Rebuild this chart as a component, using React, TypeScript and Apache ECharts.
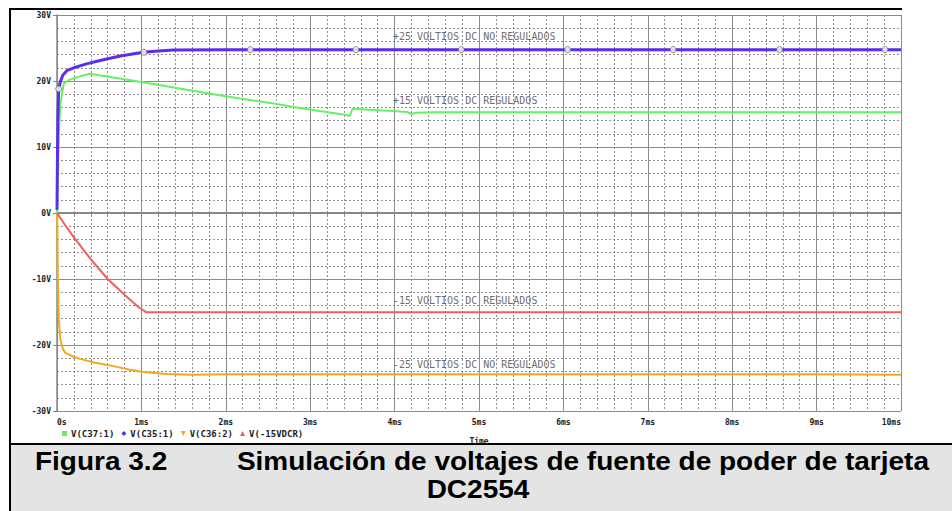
import React, { useEffect, useRef } from 'react';
import * as echarts from 'echarts';

const xTickLabels = ['0s', '1ms', '2ms', '3ms', '4ms', '5ms', '6ms', '7ms', '8ms', '9ms', '10ms'];
const yTickLabels = ['-30V', '-20V', '-10V', '0V', '10V', '20V', '30V'];
const legendNames = ['V(C37:1)', 'V(C35:1)', 'V(C36:2)', 'V(-15VDCR)'];

// V(C37:1) green (+15 V regulated)
const c37Time = [0, 0.01, 0.02, 0.04, 0.08, 0.15, 0.27, 0.39, 1.07, 1.85, 2.6, 2.88, 3.11, 3.43, 3.47, 3.5, 3.7, 3.98, 4.15, 4.2, 4.25, 4.46, 5, 6, 7, 8, 9, 10];
const c37Volt = [0, 5, 11.8, 16.5, 19.6, 20.2, 20.7, 21.1, 19.7, 18.0, 16.5, 15.9, 15.45, 14.85, 14.7, 15.8, 15.65, 15.45, 15.3, 15.0, 15.2, 15.25, 15.25, 15.25, 15.25, 15.25, 15.25, 15.25];

// V(C35:1) purple (+25 V unregulated)
const c35Time = [0, 0.005, 0.01, 0.02, 0.04, 0.07, 0.12, 0.2, 0.35, 0.51, 0.75, 1.02, 1.2, 1.38, 2, 4, 6, 8, 10];
const c35Volt = [0.5, 8, 14, 18.8, 19.9, 20.9, 21.6, 22.0, 22.6, 23.1, 23.8, 24.35, 24.55, 24.7, 24.75, 24.75, 24.75, 24.75, 24.75];

// hollow marks on V(C35:1)
const c35MarkTime = [0.02, 1.03, 2.29, 3.54, 4.79, 6.05, 7.3, 8.56, 9.81];
const c35MarkVolt = [18.8, 24.35, 24.75, 24.75, 24.75, 24.75, 24.75, 24.75, 24.75];

// V(C36:2) orange (-25 V unregulated)
const c36Time = [0, 0.005, 0.01, 0.02, 0.04, 0.07, 0.1, 0.18, 0.27, 0.45, 0.67, 0.85, 1.02, 1.3, 1.61, 2, 3, 4, 5, 6, 7, 8, 9, 10];
const c36Volt = [0, -3, -10, -16, -19.2, -20.6, -21.2, -21.7, -22.1, -22.7, -23.2, -23.7, -24.1, -24.4, -24.5, -24.45, -24.45, -24.45, -24.45, -24.45, -24.45, -24.45, -24.45, -24.5];

// V(-15VDCR) red (-15 V regulated)
const r15Time = [0, 0.1, 0.2, 0.4, 0.6, 0.8, 0.96, 1.06, 2, 4, 6, 8, 10];
const r15Volt = [0, -1.9, -3.7, -7.0, -10.0, -12.4, -14.2, -15.05, -15.05, -15.05, -15.05, -15.05, -15.05];

// annotations
const noteTexts = ['+25 VOLTIOS DC NO REGULADOS', '+15 VOLTIOS DC REGULADOS', '-15 VOLTIOS DC REGULADOS', '-25 VOLTIOS DC NO REGULADOS'];
const noteTime = [3.98, 3.98, 3.98, 3.98];
const noteVolt = [26.8, 17.0, -13.2, -23.0];

const captionLeft = 'Figura 3.2';
const captionRight = 'Simulación de voltajes de fuente de poder de tarjeta';
const captionLine2 = 'DC2554';

export default function App() {
  const ref = useRef<HTMLDivElement>(null);
  useEffect(() => {
    document.body.style.margin = '0';
    const chart = echarts.init(ref.current!, undefined, { renderer: 'svg' });
    const zip = (t: number[], v: number[]) => t.map((x, i) => [x, v[i]]);
    const mono = '"DejaVu Sans Mono", monospace';
    const capFont = 'bold 25px "Liberation Sans", Arial, sans-serif';
    const colors = ['#66f066', '#5a2ef2', '#f8a622', '#f25c5c'];
    const icons = ['rect', 'diamond', 'path://M0,0L10,0L5,10Z', 'triangle'];
    const lineSeries = [zip(c37Time, c37Volt), zip(c35Time, c35Volt), zip(c36Time, c36Volt), zip(r15Time, r15Volt)];
    const widths = [2, 3, 2, 2];
    chart.setOption({
      animation: false,
      backgroundColor: '#ffffff',
      grid: { left: 57, right: 51, top: 15, bottom: 100 },
      xAxis: {
        type: 'value',
        min: 0,
        max: 10,
        interval: 1,
        name: 'Time',
        nameLocation: 'middle',
        nameGap: 26,
        nameTextStyle: { fontFamily: mono, fontSize: 8, fontWeight: 'bold', color: '#222' },
        axisLine: { show: true, lineStyle: { color: '#888', width: 2 } },
        axisTick: { show: true, length: 4, lineStyle: { color: '#888' } },
        minorTick: { show: true, splitNumber: 5, length: 3, lineStyle: { color: '#888' } },
        splitLine: { show: true, lineStyle: { color: '#8c8c8c', width: 1 } },
        minorSplitLine: { show: true, lineStyle: { color: '#8f8f8f', width: 1, type: [2, 2] } },
        axisLabel: {
          margin: 7,
          fontFamily: mono,
          fontSize: 8,
          fontWeight: 'bold',
          color: '#222',
          alignMinLabel: 'left',
          alignMaxLabel: 'right',
          formatter: (v: number) => xTickLabels[Math.round(v)],
        },
      },
      yAxis: {
        type: 'value',
        min: -30,
        max: 30,
        interval: 10,
        axisLine: { show: true, lineStyle: { color: '#888', width: 1.5 } },
        axisTick: { show: true, length: 4, lineStyle: { color: '#888' } },
        splitLine: { show: true, lineStyle: { color: '#8c8c8c', width: 1 } },
        minorTick: { show: false, splitNumber: 5 },
        minorSplitLine: { show: true, lineStyle: { color: '#8f8f8f', width: 1, type: [2, 2] } },
        axisLabel: {
          margin: 6,
          fontFamily: mono,
          fontSize: 8,
          fontWeight: 'bold',
          color: '#222',
          formatter: (v: number) => yTickLabels[Math.round((v + 30) / 10)],
        },
      },
      legend: {
        left: 57,
        top: 424,
        itemWidth: 5,
        itemHeight: 5,
        itemGap: 7,
        textStyle: { fontFamily: mono, fontSize: 9, fontWeight: 'bold', color: '#222', padding: [0, 0, 0, -1] },
        data: legendNames.map((n, i) => ({ name: n, icon: icons[i] })),
      },
      series: [
        ...lineSeries.map((d, i) => ({
          name: legendNames[i],
          type: 'line',
          data: d,
          symbol: 'none',
          color: colors[i],
          itemStyle: { color: colors[i] },
          lineStyle: { color: colors[i], width: widths[i] },
          z: i === 1 ? 4 : 3,
        })),
        {
          name: 'marks',
          type: 'scatter',
          data: zip(c35MarkTime, c35MarkVolt),
          symbol: 'circle',
          symbolSize: 6,
          itemStyle: { color: '#ffffff', borderColor: '#666', borderWidth: 1 },
          z: 5,
        },
        {
          name: 'notes',
          type: 'scatter',
          data: noteTexts.map((t, i) => [noteTime[i], noteVolt[i], t]),
          symbolSize: 0,
          silent: true,
          label: {
            show: true,
            position: 'right',
            distance: 0,
            fontFamily: mono,
            fontSize: 10,
            color: '#444',
            formatter: (p: any) => p.data[2],
          },
          z: 6,
        },
      ],
      graphic: [
        { type: 'rect', shape: { x: 9, y: 8, width: 893, height: 2 }, style: { fill: '#000' } },
        { type: 'rect', shape: { x: 9, y: 8, width: 2, height: 503 }, style: { fill: '#000' } },
        { type: 'rect', shape: { x: 11, y: 445, width: 941, height: 66 }, style: { fill: '#e4e4e4' } },
        { type: 'rect', shape: { x: 9, y: 443, width: 943, height: 2 }, style: { fill: '#000' } },
        {
          type: 'text',
          x: 35,
          y: 462,
          scaleX: 1.12,
          style: { text: captionLeft, font: capFont, fill: '#000', textAlign: 'left', textVerticalAlign: 'middle' },
        },
        {
          type: 'text',
          x: 929,
          y: 462,
          scaleX: 1.12,
          style: { text: captionRight, font: capFont, fill: '#000', textAlign: 'right', textVerticalAlign: 'middle' },
        },
        {
          type: 'text',
          x: 478,
          y: 490,
          scaleX: 1.12,
          style: { text: captionLine2, font: capFont, fill: '#000', textAlign: 'center', textVerticalAlign: 'middle' },
        },
      ],
    });
    return () => chart.dispose();
  }, []);
  return <div ref={ref} style={{ width: 952, height: 511 }} />;
}
